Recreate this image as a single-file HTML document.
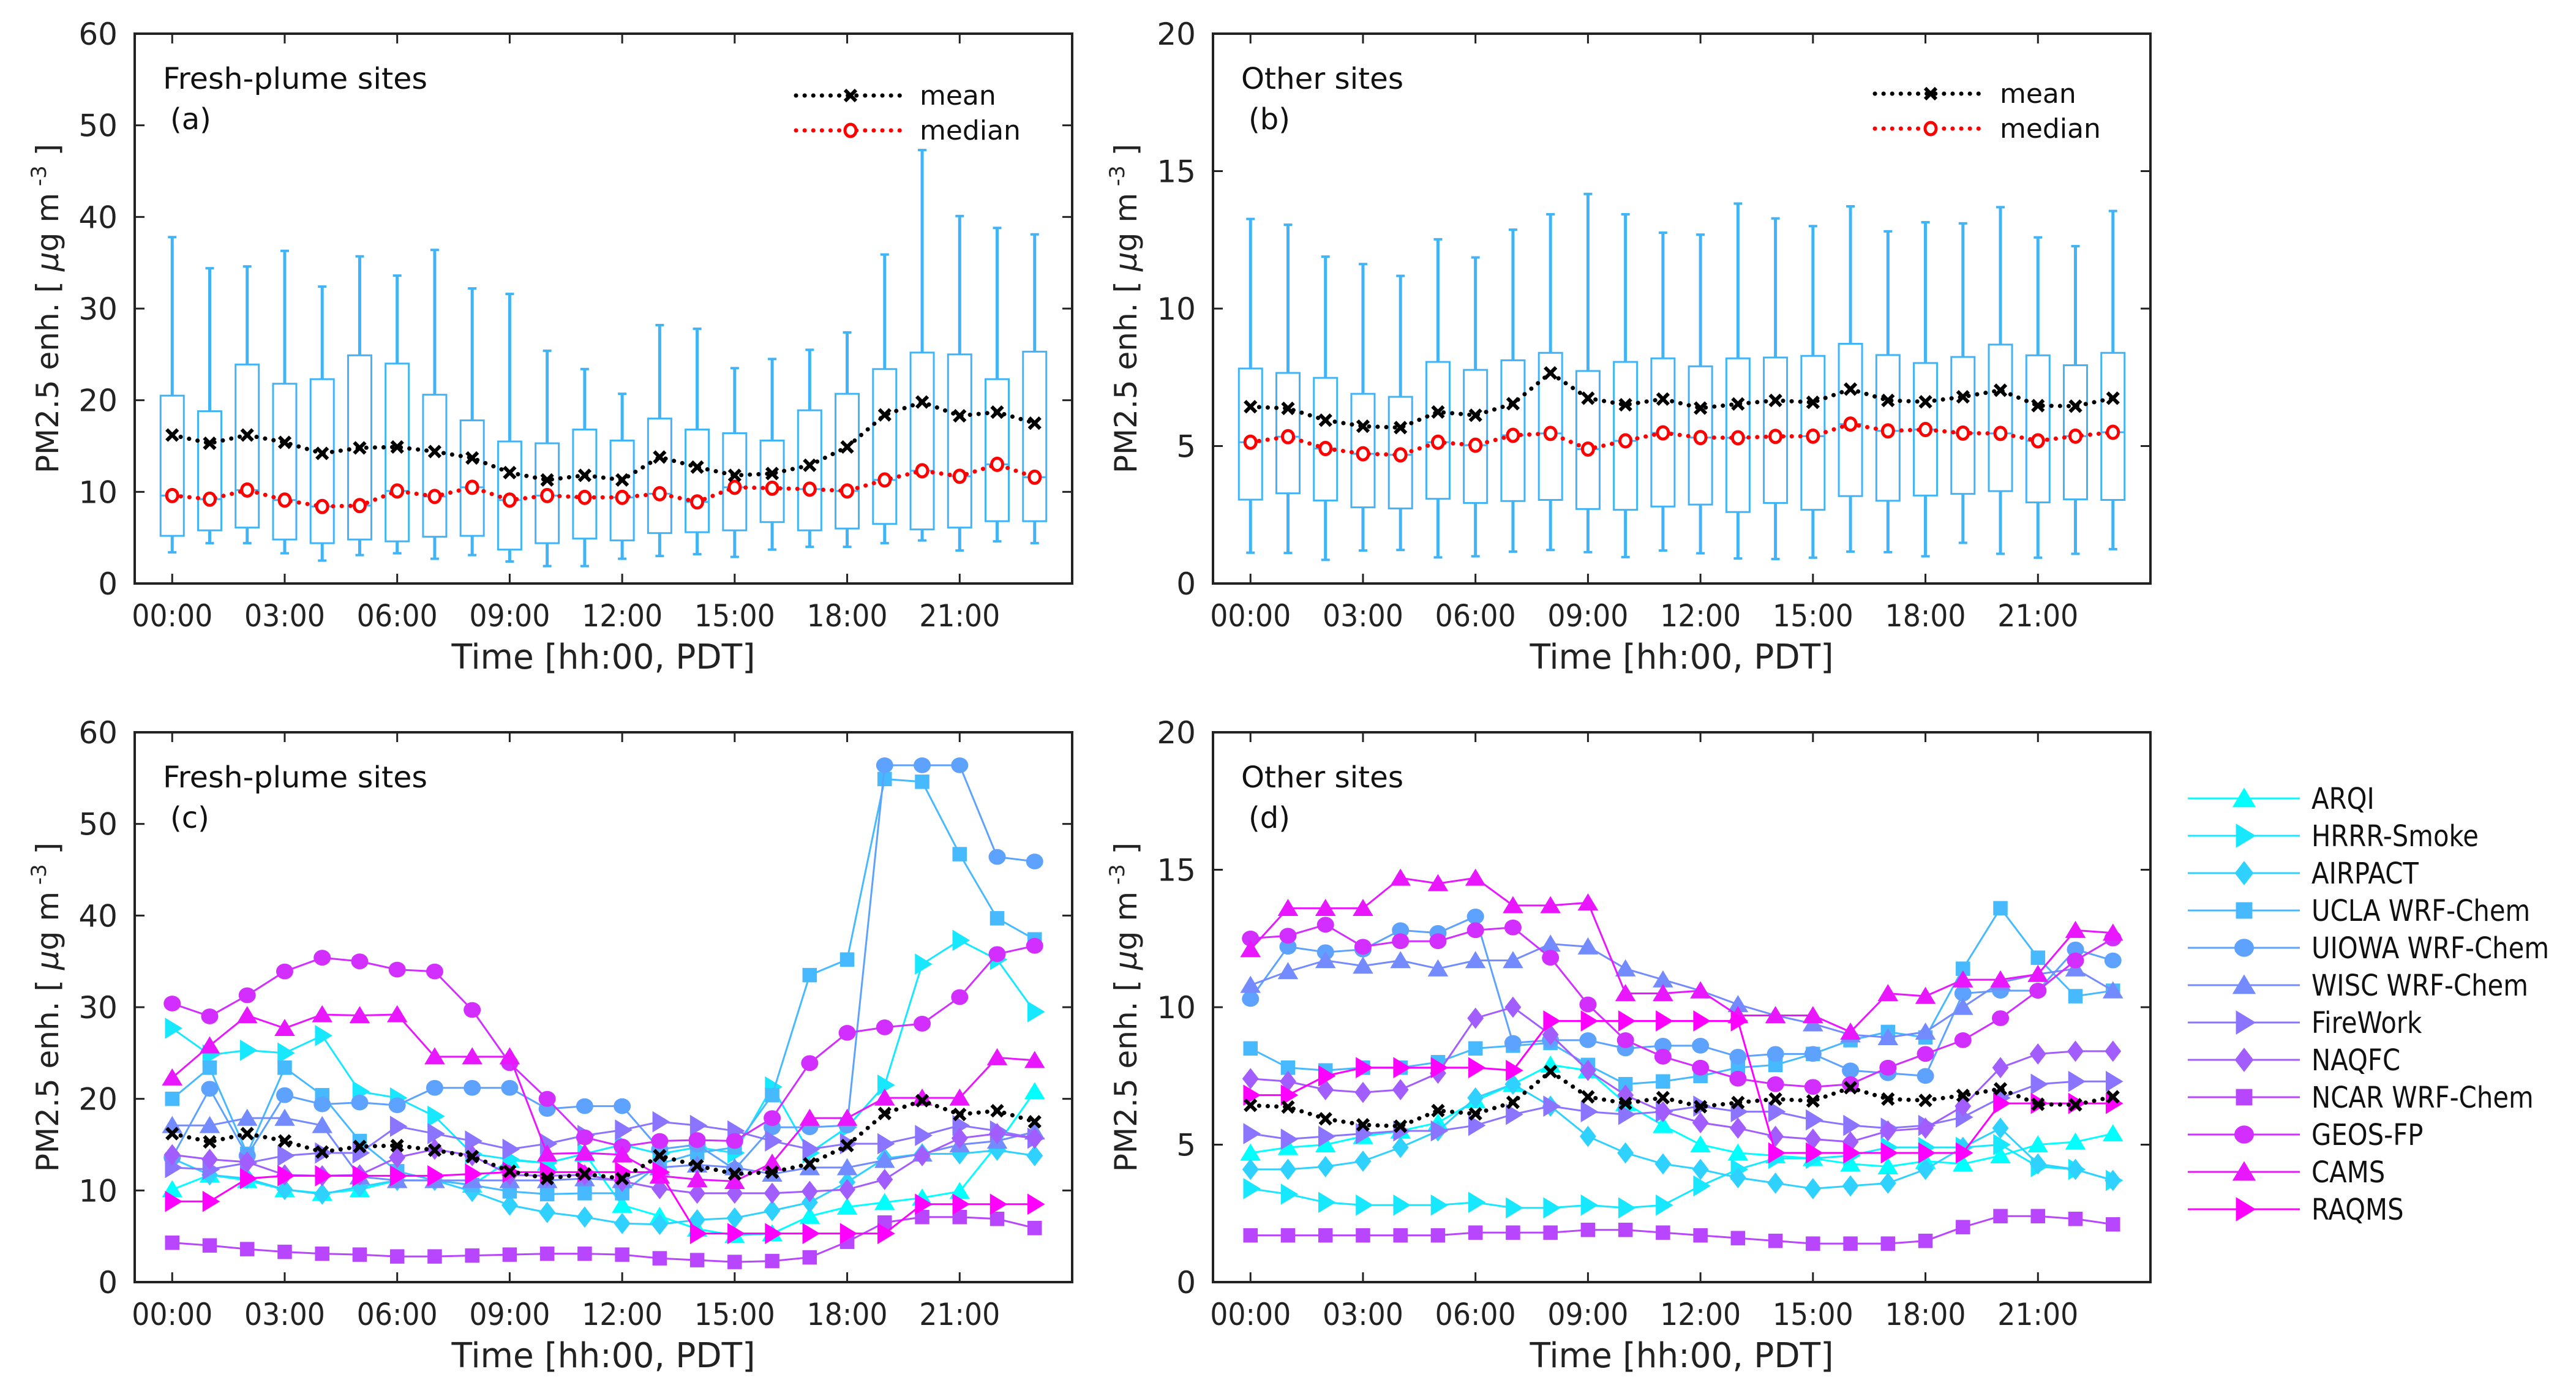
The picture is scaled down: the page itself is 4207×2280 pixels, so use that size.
<!DOCTYPE html>
<html><head><meta charset="utf-8">
<style>
html,body{margin:0;padding:0;background:#fff;}
svg{display:block;}
.tk{font-family:"DejaVu Sans","Liberation Sans",sans-serif;font-size:50px;fill:#222;}
.ax{font-family:"DejaVu Sans","Liberation Sans",sans-serif;font-size:56px;fill:#222;}
.yl{font-family:"DejaVu Sans","Liberation Sans",sans-serif;font-size:50px;fill:#222;}
.an{font-family:"DejaVu Sans","Liberation Sans",sans-serif;font-size:48px;fill:#111;}
.lg{font-family:"DejaVu Sans","Liberation Sans",sans-serif;font-size:44px;fill:#111;}
.lm{font-family:"DejaVu Sans","Liberation Sans",sans-serif;font-size:48px;fill:#111;}
</style></head>
<body>
<svg id="chart" xmlns="http://www.w3.org/2000/svg" width="4207" height="2280" viewBox="0 0 4207 2280">
<rect x="0" y="0" width="4207" height="2280" fill="#fff"/>
</svg>
<script>
// ---------- data ----------
const hours = [0,1,2,3,4,5,6,7,8,9,10,11,12,13,14,15,16,17,18,19,20,21,22,23];
const xTickHours = [0,3,6,9,12,15,18,21];
const xTickLabels = ["00:00","03:00","06:00","09:00","12:00","15:00","18:00","21:00"];
const yTicksFresh = [0,10,20,30,40,50,60];
const yTicksOther = [0,5,10,15,20];

// Panel (a) fresh-plume box stats
const freshQ3 = [20.5,18.8,23.9,21.8,22.3,24.9,24.0,20.6,17.8,15.5,15.3,16.8,15.6,18.0,16.8,16.4,15.6,18.9,20.7,23.4,25.2,25.0,22.3,25.3];
const freshQ1 = [5.2,5.8,6.1,4.8,4.4,4.8,4.6,5.1,5.2,3.7,4.4,4.9,4.7,5.5,5.6,5.8,6.7,5.8,6.0,6.5,5.9,6.1,6.8,6.8];
const freshWhiskHi = [37.8,34.4,34.6,36.3,32.4,35.7,33.6,36.4,32.2,31.6,25.4,23.4,20.7,28.2,27.8,23.5,24.5,25.5,27.4,35.9,47.3,40.1,38.8,38.1];
const freshWhiskLo = [3.4,4.4,4.4,3.3,2.5,3.1,3.3,2.7,3.1,2.4,1.9,1.9,2.7,3.0,3.2,2.9,3.7,4.0,4.0,4.4,4.7,3.6,4.6,4.4];
const freshMean = [16.2,15.3,16.2,15.4,14.2,14.8,14.9,14.4,13.7,12.1,11.3,11.8,11.3,13.8,12.7,11.8,12.0,12.9,14.9,18.4,19.8,18.3,18.7,17.5];
const freshMedian = [9.6,9.2,10.2,9.1,8.4,8.5,10.1,9.5,10.5,9.1,9.6,9.4,9.4,9.8,8.9,10.5,10.4,10.3,10.1,11.3,12.3,11.7,13.0,11.6];

// Panel (b) other sites box stats
const otherQ3 = [7.82,7.66,7.48,6.90,6.79,8.06,7.77,8.12,8.39,7.73,8.06,8.19,7.90,8.19,8.22,8.28,8.72,8.31,8.02,8.24,8.69,8.30,7.94,8.39];
const otherQ1 = [3.05,3.28,3.02,2.77,2.73,3.08,2.93,3.00,3.04,2.71,2.68,2.80,2.87,2.60,2.93,2.68,3.18,3.01,3.20,3.26,3.36,2.95,3.06,3.04];
const otherWhiskHi = [13.26,13.05,11.89,11.62,11.19,12.52,11.86,12.87,13.43,14.17,13.43,12.76,12.69,13.82,13.28,13.0,13.72,12.81,13.14,13.10,13.69,12.59,12.27,13.55];
const otherWhiskLo = [1.12,1.11,0.86,1.20,1.22,0.95,0.99,1.16,1.22,1.14,0.96,1.20,1.10,0.91,0.89,0.94,1.16,1.14,0.99,1.48,1.08,0.94,1.08,1.25];
const otherMean = [6.43,6.37,5.94,5.72,5.67,6.24,6.12,6.54,7.66,6.74,6.50,6.71,6.38,6.53,6.66,6.59,7.07,6.66,6.61,6.79,7.03,6.47,6.45,6.74];
const otherMedian = [5.14,5.34,4.91,4.72,4.68,5.14,5.03,5.39,5.46,4.89,5.19,5.48,5.31,5.30,5.35,5.36,5.80,5.55,5.60,5.47,5.46,5.19,5.36,5.50];

// Models
const modelNames = ["ARQI","HRRR-Smoke","AIRPACT","UCLA WRF-Chem","UIOWA WRF-Chem","WISC WRF-Chem","FireWork","NAQFC","NCAR WRF-Chem","GEOS-FP","CAMS","RAQMS"];
const modelMarkers = ["^",">","d","s","o","^",">","d","s","o","^",">"];

// Panel (c) fresh-plume model values
const cARQI = [10.1,11.7,11.1,10.1,9.7,10.1,11.1,11.1,10.6,13.3,13.0,14.0,8.4,7.2,5.8,5.1,5.3,7.2,8.2,8.7,9.2,9.9,15.0,20.8];
const cHRRR = [27.7,24.8,25.3,25.0,26.9,20.8,20.1,18.1,14.0,13.4,13.0,14.0,15.0,14.0,14.7,14.1,21.3,14.1,16.9,21.5,34.7,37.3,35.2,29.5];
const cAIRPACT = [13.5,11.7,11.3,10.1,9.6,10.4,11.1,11.1,9.9,8.4,7.6,7.1,6.4,6.3,6.8,7.0,7.8,8.7,10.9,13.5,14.0,14.0,14.4,13.8];
const cUCLA = [20.0,23.4,14.0,23.4,20.4,15.4,12.1,11.1,10.6,9.9,9.6,9.7,9.7,12.9,14.1,14.7,20.4,33.5,35.2,54.9,54.6,46.7,39.7,37.4];
const cUIOWA = [13.6,21.1,13.8,20.4,19.4,19.6,19.3,21.2,21.2,21.2,18.9,19.2,19.2,14.5,15.0,12.3,16.9,16.9,17.1,56.4,56.4,56.4,46.4,45.9];
const cWISC = [17.1,17.1,17.9,17.9,17.1,11.5,11.1,11.1,11.1,11.1,11.1,11.3,11.1,12.5,12.8,12.5,11.8,12.5,12.5,13.3,14.0,15.0,15.4,16.4];
const cFireWork = [12.5,12.3,13.0,13.8,14.1,14.1,17.0,16.2,15.4,14.5,15.1,16.0,16.6,17.5,17.1,16.5,15.4,14.5,15.1,15.1,16.0,17.1,16.5,15.7];
const cNAQFC = [13.9,13.4,13.1,11.7,11.6,11.7,13.6,14.5,13.8,11.7,11.6,11.7,11.0,10.2,9.7,9.7,9.7,9.9,10.1,11.2,13.8,15.7,16.2,15.7];
const cNCAR = [4.3,4.0,3.6,3.3,3.1,3.0,2.8,2.8,2.9,3.0,3.1,3.1,3.0,2.6,2.4,2.2,2.3,2.7,4.4,6.5,7.1,7.1,6.9,5.9];
const cGEOS = [30.4,29.0,31.3,33.9,35.4,35.0,34.1,33.9,29.7,23.9,20.0,15.8,14.8,15.4,15.5,15.4,17.9,23.9,27.2,27.8,28.2,31.1,35.8,36.7];
const cCAMS = [22.3,25.8,29.1,27.7,29.2,29.1,29.2,24.6,24.6,24.6,14.0,14.1,13.9,11.6,11.2,11.0,13.0,17.9,17.9,20.1,20.1,20.1,24.5,24.2];
const cRAQMS = [8.8,8.8,11.3,11.6,11.6,11.6,11.6,11.6,11.8,12.0,12.0,12.0,12.0,12.0,5.3,5.3,5.3,5.3,5.3,5.3,8.5,8.5,8.5,8.5];

// Panel (d) other-site model values
const dARQI = [4.7,4.9,5.0,5.3,5.5,5.8,6.6,7.2,7.9,7.7,6.5,5.7,5.0,4.7,4.6,4.5,4.3,4.2,4.4,4.3,4.6,5.0,5.1,5.4];
const dHRRR = [3.4,3.2,2.9,2.8,2.8,2.8,2.9,2.7,2.7,2.8,2.7,2.8,3.5,4.1,4.5,4.5,4.6,4.9,4.9,4.9,5.0,4.2,4.1,3.7];
const dAIRPACT = [4.1,4.1,4.2,4.4,4.9,5.5,6.7,7.2,6.4,5.3,4.7,4.3,4.1,3.8,3.6,3.4,3.5,3.6,4.1,4.9,5.6,4.3,4.1,3.7];
const dUCLA = [8.5,7.8,7.7,7.8,7.8,8.0,8.5,8.6,8.7,7.9,7.2,7.3,7.5,7.8,7.9,8.3,8.8,9.1,8.9,11.4,13.6,11.8,10.4,10.6];
const dUIOWA = [10.3,12.2,12.0,12.1,12.8,12.7,13.3,8.7,8.8,8.8,8.5,8.6,8.6,8.2,8.3,8.3,7.7,7.6,7.5,10.5,10.6,10.6,12.1,11.7];
const dWISC = [10.8,11.3,11.7,11.5,11.7,11.4,11.7,11.7,12.3,12.2,11.4,11.0,10.6,10.1,9.7,9.4,9.0,8.9,9.1,10.0,10.9,11.2,11.4,10.6];
const dFireWork = [5.4,5.2,5.3,5.4,5.5,5.5,5.7,6.1,6.4,6.2,6.1,6.2,6.4,6.2,6.2,5.9,5.7,5.6,5.7,6.0,6.7,7.2,7.3,7.3];
const dNAQFC = [7.4,7.3,7.0,6.9,7.0,7.6,9.6,10.0,9.0,7.7,6.8,6.2,5.8,5.6,5.3,5.2,5.1,5.5,5.6,6.4,7.8,8.3,8.4,8.4];
const dNCAR = [1.7,1.7,1.7,1.7,1.7,1.7,1.8,1.8,1.8,1.9,1.9,1.8,1.7,1.6,1.5,1.4,1.4,1.4,1.5,2.0,2.4,2.4,2.3,2.1];
const dGEOS = [12.5,12.6,13.0,12.2,12.4,12.4,12.8,12.9,11.8,10.1,8.8,8.2,7.8,7.4,7.2,7.1,7.2,7.8,8.3,8.8,9.6,10.6,11.7,12.5];
const dCAMS = [12.1,13.6,13.6,13.6,14.7,14.5,14.7,13.7,13.7,13.8,10.5,10.5,10.6,9.7,9.7,9.7,9.1,10.5,10.4,11.0,11.0,11.2,12.8,12.7];
const dRAQMS = [6.8,6.8,7.5,7.8,7.8,7.8,7.8,7.7,9.5,9.5,9.5,9.5,9.5,9.5,4.7,4.7,4.7,4.7,4.7,4.7,6.5,6.5,6.5,6.5];

// ---------- drawing ----------
const NS = "http://www.w3.org/2000/svg";
const svg = document.getElementById("chart");
function mk(tag, attrs, parent){
  const e = document.createElementNS(NS, tag);
  for (const k in attrs) e.setAttribute(k, attrs[k]);
  (parent || svg).appendChild(e);
  return e;
}
function modelColor(i){ const t = i/11; return "rgb("+Math.round(255*t)+","+Math.round(255*(1-t))+",255)"; }
const DOT = {"stroke-dasharray":"0.1 14","stroke-linecap":"round"};

const panels = {
  a:{l:220,r:1751,t:55,b:953,ymax:60,ticks:yTicksFresh},
  b:{l:1981,r:3512,t:55,b:953,ymax:20,ticks:yTicksOther},
  c:{l:220,r:1751,t:1196,b:2094,ymax:60,ticks:yTicksFresh},
  d:{l:1981,r:3512,t:1196,b:2094,ymax:20,ticks:yTicksOther}
};
function xs(p,h){ return p.l + (h+1)*(p.r-p.l)/25; }
function ys(p,v){ return p.b - v/p.ymax*(p.b-p.t); }

function drawAxes(key, title, titleW, tag, yLabelX){
  const p = panels[key];
  const g = mk("g",{});
  
  
  const frame = mk("rect",{x:p.l,y:p.t,width:p.r-p.l,height:p.b-p.t,fill:"none",stroke:"#222","stroke-width":4},g);
  
  
  xTickHours.forEach((h,i)=>{
    const x = xs(p,h);
    mk("line",{x1:x,y1:p.b,x2:x,y2:p.b-16,stroke:"#222","stroke-width":3},g);
    mk("line",{x1:x,y1:p.t,x2:x,y2:p.t+16,stroke:"#222","stroke-width":3},g);
    const t = mk("text",{x:x,y:p.b+70,"text-anchor":"middle","class":"tk",textLength:132,lengthAdjust:"spacingAndGlyphs"},g);
    t.textContent = xTickLabels[i];
    
    
  });
  p.ticks.forEach(v=>{
    const y = ys(p,v);
    mk("line",{x1:p.l,y1:y,x2:p.l+16,y2:y,stroke:"#222","stroke-width":3},g);
    mk("line",{x1:p.r,y1:y,x2:p.r-16,y2:y,stroke:"#222","stroke-width":3},g);
    const t = mk("text",{x:p.l-28,y:y+18,"text-anchor":"end","class":"tk"},g);
    t.textContent = String(v);
    
    
  });
  const xt = mk("text",{x:(p.l+p.r)/2,y:p.b+139,"text-anchor":"middle","class":"ax",textLength:496,lengthAdjust:"spacingAndGlyphs"},g);
  xt.textContent = "Time [hh:00, PDT]";
  
  
  const cy = (p.t+p.b)/2;
  const yt = mk("text",{x:yLabelX,y:cy,"text-anchor":"middle","class":"yl",transform:"rotate(-90 "+yLabelX+" "+cy+")"},g);
  
  
  yt.innerHTML = 'PM2.5 enh. [ <tspan font-style="italic">μ</tspan>g m<tspan dy="-20" font-size="34"> -3</tspan><tspan dy="20"> ]</tspan>';
  const a1 = mk("text",{x:p.l+46,y:p.t+90,"class":"an",textLength:titleW,lengthAdjust:"spacingAndGlyphs"},g);
  a1.textContent = title;
  
  
  const a2 = mk("text",{x:p.l+58,y:p.t+156,"class":"an"},g);
  a2.textContent = tag;
  
  
}

function xMark(g,x,y,s){
  mk("line",{x1:x-s,y1:y-s,x2:x+s,y2:y+s,stroke:"#000","stroke-width":6},g);
  mk("line",{x1:x-s,y1:y+s,x2:x+s,y2:y-s,stroke:"#000","stroke-width":6},g);
}
function meanLine(p, vals, name){
  const g = mk("g",{});
  
  
  const pts = hours.map((h,i)=>xs(p,h)+","+ys(p,vals[i])).join(" ");
  mk("polyline",Object.assign({points:pts,fill:"none",stroke:"#000","stroke-width":7},DOT),g);
  hours.forEach((h,i)=>{ xMark(g,xs(p,h),ys(p,vals[i]),9); });
}
function medianLine(p, vals, name){
  const g = mk("g",{});
  
  
  const pts = hours.map((h,i)=>xs(p,h)+","+ys(p,vals[i])).join(" ");
  mk("polyline",Object.assign({points:pts,fill:"none",stroke:"#f00","stroke-width":7},DOT),g);
  hours.forEach((h,i)=>{ mk("ellipse",{cx:xs(p,h),cy:ys(p,vals[i]),rx:9,ry:10,fill:"#fff",stroke:"#f00","stroke-width":5},g); });
}
function boxes(p,q1,q3,lo,hi,med,name){
  const g = mk("g",{});
  
  
  const col = "#40b4f6";
  hours.forEach((h,i)=>{
    const x = xs(p,h), w = 38;
    const b = mk("g",{},g);
    
    
    mk("line",{x1:x,y1:ys(p,q1[i]),x2:x,y2:ys(p,lo[i]),stroke:col,"stroke-width":5},b);
    mk("line",{x1:x,y1:ys(p,q3[i]),x2:x,y2:ys(p,hi[i]),stroke:col,"stroke-width":5},b);
    mk("line",{x1:x-7,y1:ys(p,hi[i]),x2:x+7,y2:ys(p,hi[i]),stroke:col,"stroke-width":4},b);
    mk("line",{x1:x-7,y1:ys(p,lo[i]),x2:x+7,y2:ys(p,lo[i]),stroke:col,"stroke-width":4},b);
    mk("rect",{x:x-w/2,y:ys(p,q3[i]),width:w,height:ys(p,q1[i])-ys(p,q3[i]),fill:"#fff",stroke:col,"stroke-width":3},b);
    mk("line",{x1:x-w/2,y1:ys(p,med[i]),x2:x+w/2,y2:ys(p,med[i]),stroke:col,"stroke-width":3},b);
  });
}
function marker(g,type,x,y,s,color){
  let e;
  if (type==="^") e = mk("polygon",{points:[x,y-s*0.55,x-s*0.6,y+s*0.45,x+s*0.6,y+s*0.45].join(","),fill:color},g);
  else if (type===">") e = mk("polygon",{points:[x+s*0.6,y,x-s*0.42,y-s*0.62,x-s*0.42,y+s*0.62].join(","),fill:color},g);
  else if (type==="d") e = mk("polygon",{points:[x,y-s*0.62,x+s*0.48,y,x,y+s*0.62,x-s*0.48,y].join(","),fill:color},g);
  else if (type==="s") e = mk("rect",{x:x-s*0.42,y:y-s*0.42,width:s*0.84,height:s*0.84,fill:color},g);
  else e = mk("ellipse",{cx:x,cy:y,rx:s*0.5,ry:s*0.46,fill:color},g);
  return e;
}
function modelSeries(p, series){
  series.forEach((vals,k)=>{
    const col = modelColor(k);
    const g = mk("g",{});
    
    
    const pts = hours.map((h,i)=>xs(p,h)+","+ys(p,vals[i])).join(" ");
    mk("polyline",{points:pts,fill:"none",stroke:col,"stroke-width":3},g);
    hours.forEach((h,i)=>{
      const m = marker(g,modelMarkers[k],xs(p,h),ys(p,vals[i]),28,col);
      
      
    });
  });
}
function boxLegend(x1,x2,xm,xt,y1,y2){
  const g = mk("g",{});
  
  
  mk("line",Object.assign({x1:x1,y1:y1,x2:x2,y2:y1,stroke:"#000","stroke-width":7},DOT),g);
  xMark(g,xm,y1,9);
  const t1 = mk("text",{x:xt,y:y1+15,"class":"lg"},g); t1.textContent="mean";
  
  
  mk("line",Object.assign({x1:x1,y1:y2,x2:x2,y2:y2,stroke:"#f00","stroke-width":7},DOT),g);
  mk("ellipse",{cx:xm,cy:y2,rx:9,ry:10,fill:"#fff",stroke:"#f00","stroke-width":5},g);
  const t2 = mk("text",{x:xt,y:y2+15,"class":"lg"},g); t2.textContent="median";
  
  
}

// Panel a
drawAxes("a","Fresh-plume sites",432,"(a)",95);
boxes(panels.a,freshQ1,freshQ3,freshWhiskLo,freshWhiskHi,freshMedian,"boxplots-fresh");
medianLine(panels.a,freshMedian,"median-line-fresh");
meanLine(panels.a,freshMean,"mean-line-fresh");
boxLegend(1300,1481,1389,1502,156,213);
// Panel b
drawAxes("b","Other sites",265,"(b)",1856);
boxes(panels.b,otherQ1,otherQ3,otherWhiskLo,otherWhiskHi,otherMedian,"boxplots-other");
medianLine(panels.b,otherMedian,"median-line-other");
meanLine(panels.b,otherMean,"mean-line-other");
boxLegend(3062,3238,3153,3266,153,210);
// Panel c
drawAxes("c","Fresh-plume sites",432,"(c)",95);
modelSeries(panels.c,[cARQI,cHRRR,cAIRPACT,cUCLA,cUIOWA,cWISC,cFireWork,cNAQFC,cNCAR,cGEOS,cCAMS,cRAQMS]);
meanLine(panels.c,freshMean,"mean-line-models-fresh");
// Panel d
drawAxes("d","Other sites",265,"(d)",1856);
modelSeries(panels.d,[dARQI,dHRRR,dAIRPACT,dUCLA,dUIOWA,dWISC,dFireWork,dNAQFC,dNCAR,dGEOS,dCAMS,dRAQMS]);
meanLine(panels.d,otherMean,"mean-line-models-other");

// Model legend
const lgG = mk("g",{});


modelNames.forEach((n,k)=>{
  const y = 1304 + k*61;
  const col = modelColor(k);
  const e = mk("g",{},lgG);
  
  
  mk("line",{x1:3573,y1:y,x2:3756,y2:y,stroke:col,"stroke-width":3},e);
  marker(e,modelMarkers[k],3665,y,32,col);
  const t = mk("text",{x:3775,y:y+17,"class":"lm"},e);
  t.textContent = n;
  const L = t.getComputedTextLength();
  if (L > 0) { t.setAttribute("textLength", (L*0.87).toFixed(1)); t.setAttribute("lengthAdjust","spacingAndGlyphs"); }
});
</script>
</body></html>
